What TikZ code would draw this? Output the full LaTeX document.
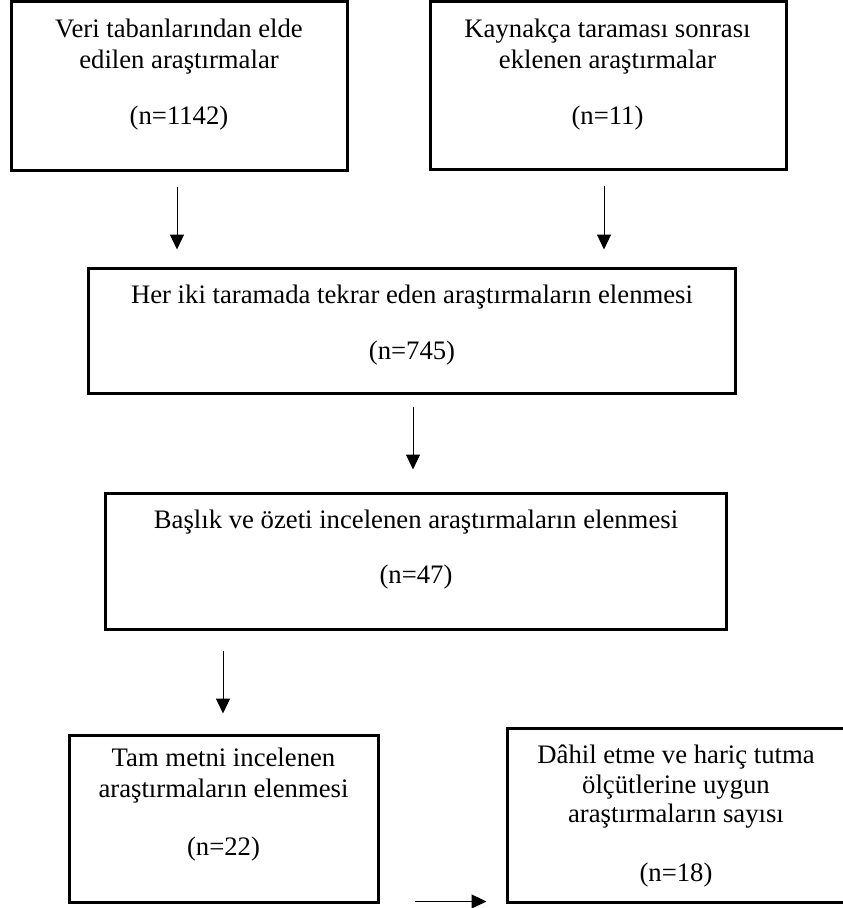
\documentclass[tikz,border=0pt]{standalone}
\usepackage{fontspec}
\setmainfont{Liberation Serif}
\usetikzlibrary{arrows.meta}
\begin{document}
\begin{tikzpicture}[x=1pt,y=-1pt,
  box/.style={draw=black, line width=3pt, rectangle, inner sep=0pt},
  txt/.style={font=\fontsize{26.7}{31}\selectfont, anchor=base, inner sep=0pt},
  arr/.style={line width=1pt, -{Triangle[length=15pt,width=14pt]}}]
\useasboundingbox (0,0) rectangle (843,908);
\begin{scope}
\clip (0,0) rectangle (843,908);
% boxes
\node[box, minimum width=336pt, minimum height=168.5pt] (b1) at (179,85.75) {};
\node[box, minimum width=356pt, minimum height=167.5pt] (b2) at (608,85.25) {};
\node[box, minimum width=647pt, minimum height=125pt] (b3) at (411.5,330.5) {};
\node[box, minimum width=621pt, minimum height=136pt] (b4) at (415.5,561) {};
\node[box, minimum width=309pt, minimum height=167pt] (b5) at (223.5,818.5) {};
\node[box, minimum width=343pt, minimum height=174pt] (b6) at (678.5,815) {};
% texts
\node[txt] (t1a) at (179,37) {Veri tabanlarından elde};
\node[txt] (t1b) at (179,68) {edilen araştırmalar};
\node[txt] (t1c) at (179,124) {(n=1142)};
\node[txt] (t2a) at (607.5,37) {Kaynakça taraması sonrası};
\node[txt] (t2b) at (607.5,68) {eklenen araştırmalar};
\node[txt] (t2c) at (607.5,124) {(n=11)};
\node[txt] (t3a) at (412,303) {Her iki taramada tekrar eden araştırmaların elenmesi};
\node[txt] (t3b) at (412,359) {(n=745)};
\node[txt] (t4a) at (416,528) {Başlık ve özeti incelenen araştırmaların elenmesi};
\node[txt] (t4b) at (416,583) {(n=47)};
\node[txt] (t5a) at (223.5,766) {Tam metni incelenen};
\node[txt] (t5b) at (223.5,797) {araştırmaların elenmesi};
\node[txt] (t5c) at (223.5,855) {(n=22)};
\node[txt] (t6a) at (676,763) {Dâhil etme ve hariç tutma};
\node[txt] (t6b) at (676,793) {ölçütlerine uygun};
\node[txt] (t6c) at (676,822) {araştırmaların sayısı};
\node[txt] (t6d) at (676,881) {(n=18)};
% arrows
\draw[arr] ([shift={(-2,15)}]b1.south) -- ([shift={(-2,78)}]b1.south);
\draw[arr] ([shift={(-4,15)}]b2.south) -- ([shift={(-4,79)}]b2.south);
\draw[arr] ([shift={(1.5,12)}]b3.south) -- ([shift={(1.5,75)}]b3.south);
\draw[arr] ([shift={(-0.5,-83)}]b5.north) -- ([shift={(-0.5,-20)}]b5.north);
\draw[arr] ([shift={(35,-2)}]b5.south east) -- ([shift={(-19,-2)}]b6.south west);
\end{scope}
\end{tikzpicture}
\end{document}
